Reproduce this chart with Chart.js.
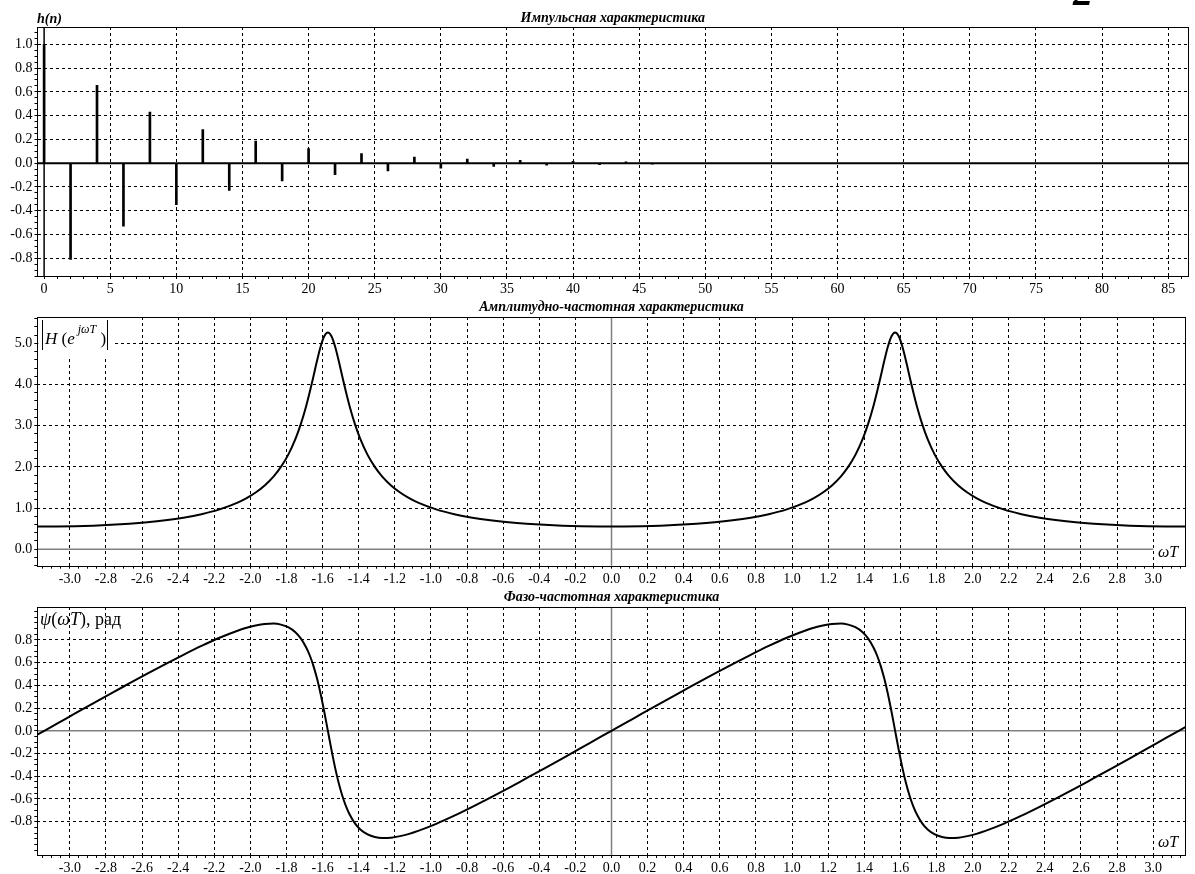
<!DOCTYPE html>
<html>
<head>
<meta charset="utf-8">
<script src="https://cdn.jsdelivr.net/npm/chart.js@4.4.1/dist/chart.umd.min.js"></script>
<style>
    html, body { margin: 0; padding: 0; background: #fff; }
    body { width: 1195px; height: 874px; position: relative; overflow: hidden; }
    canvas { position: absolute; left: 0; }
</style>
</head>
<body>
<canvas id="impulse" width="1195" height="300" style="top:0px"></canvas>
<canvas id="amplitude" width="1195" height="290" style="top:300px"></canvas>
<canvas id="phase" width="1195" height="284" style="top:590px"></canvas>
<script>
// Impulse response h(n), only even samples are non-zero
const sampleN = [0, 2, 4, 6, 8, 10, 12, 14, 16, 18, 20, 22, 24, 26, 28, 30, 32, 34, 36, 38, 40, 42, 44, 46];
const impulseH = [1.0, -0.81, 0.656, -0.531, 0.43, -0.349, 0.282, -0.229, 0.185, -0.15, 0.122, -0.098,
    0.08, -0.065, 0.052, -0.042, 0.034, -0.028, 0.023, -0.018, 0.015, -0.012, 0.01, -0.008];

// omega*T samples shared by the amplitude and phase curves
const omegaT = [
    -3.18, -3.1416, -3.0708, -2.9708, -2.8708, -2.7708, -2.6708, -2.5708, -2.4708, -2.3708, -2.2708, -2.1708, -2.0708,
    -2.0208, -1.9708, -1.9208, -1.8708, -1.8308, -1.7908, -1.7508, -1.7208, -1.6908, -1.6708, -1.6508, -1.6308, -1.6108, -1.5908, -1.5708,
    -1.5508, -1.5308, -1.5108, -1.4908, -1.4708, -1.4508, -1.4208, -1.3908, -1.3508, -1.3108, -1.2708, -1.2208, -1.1708, -1.1208, -1.0708,
    -0.9708, -0.8708, -0.7708, -0.6708, -0.5708, -0.4708, -0.3708, -0.2708, -0.1708, -0.0708, 0,
    0.0708, 0.1708, 0.2708, 0.3708, 0.4708, 0.5708, 0.6708, 0.7708, 0.8708, 0.9708, 1.0708,
    1.1208, 1.1708, 1.2208, 1.2708, 1.3108, 1.3508, 1.3908, 1.4208, 1.4508, 1.4708, 1.4908, 1.5108, 1.5308, 1.5508, 1.5708,
    1.5908, 1.6108, 1.6308, 1.6508, 1.6708, 1.6908, 1.7208, 1.7508, 1.7908, 1.8308, 1.8708, 1.9208, 1.9708, 2.0208, 2.0708,
    2.1708, 2.2708, 2.3708, 2.4708, 2.5708, 2.6708, 2.7708, 2.8708, 2.9708, 3.0708, 3.1416, 3.18,
];
const ampH = [
    0.553, 0.5525, 0.554, 0.561, 0.573, 0.592, 0.619, 0.655, 0.703, 0.766, 0.851, 0.967, 1.132,
    1.241, 1.377, 1.548, 1.770, 1.999, 2.292, 2.673, 3.037, 3.481, 3.824, 4.196, 4.576, 4.922, 5.171, 5.263,
    5.171, 4.922, 4.576, 4.196, 3.824, 3.481, 3.037, 2.673, 2.292, 1.999, 1.770, 1.548, 1.377, 1.241, 1.132,
    0.967, 0.851, 0.766, 0.703, 0.655, 0.619, 0.592, 0.573, 0.561, 0.554, 0.5525,
    0.554, 0.561, 0.573, 0.592, 0.619, 0.655, 0.703, 0.766, 0.851, 0.967, 1.132,
    1.241, 1.377, 1.548, 1.770, 1.999, 2.292, 2.673, 3.037, 3.481, 3.824, 4.196, 4.576, 4.922, 5.171, 5.263,
    5.171, 4.922, 4.576, 4.196, 3.824, 3.481, 3.037, 2.673, 2.292, 1.999, 1.770, 1.548, 1.377, 1.241, 1.132,
    0.967, 0.851, 0.766, 0.703, 0.655, 0.619, 0.592, 0.573, 0.561, 0.554, 0.5525, 0.553,
];
const phasePsi = [
    -0.034, 0, 0.063, 0.153, 0.242, 0.330, 0.417, 0.504, 0.588, 0.669, 0.747, 0.819, 0.881,
    0.907, 0.927, 0.941, 0.944, 0.935, 0.912, 0.868, 0.814, 0.734, 0.663, 0.572, 0.460, 0.324, 0.168, 0,
    -0.168, -0.324, -0.460, -0.572, -0.663, -0.734, -0.814, -0.868, -0.912, -0.935, -0.944, -0.941, -0.927, -0.907, -0.881,
    -0.819, -0.747, -0.669, -0.588, -0.504, -0.417, -0.330, -0.242, -0.153, -0.063, 0,
    0.063, 0.153, 0.242, 0.330, 0.417, 0.504, 0.588, 0.669, 0.747, 0.819, 0.881,
    0.907, 0.927, 0.941, 0.944, 0.935, 0.912, 0.868, 0.814, 0.734, 0.663, 0.572, 0.460, 0.324, 0.168, 0,
    -0.168, -0.324, -0.460, -0.572, -0.663, -0.734, -0.814, -0.868, -0.912, -0.935, -0.944, -0.941, -0.927, -0.907, -0.881,
    -0.819, -0.747, -0.669, -0.588, -0.504, -0.417, -0.330, -0.242, -0.153, -0.063, 0, 0.034,
];

// Labelled tick values
const nTicks = [0, 5, 10, 15, 20, 25, 30, 35, 40, 45, 50, 55, 60, 65, 70, 75, 80, 85];
const hTicks = [-0.8, -0.6, -0.4, -0.2, 0, 0.2, 0.4, 0.6, 0.8, 1.0];
const wTicks = [-3.0, -2.8, -2.6, -2.4, -2.2, -2.0, -1.8, -1.6, -1.4, -1.2, -1.0, -0.8, -0.6, -0.4, -0.2,
    0, 0.2, 0.4, 0.6, 0.8, 1.0, 1.2, 1.4, 1.6, 1.8, 2.0, 2.2, 2.4, 2.6, 2.8, 3.0];
const ampTicks = [0, 1, 2, 3, 4, 5];
const psiTicks = [-0.8, -0.6, -0.4, -0.2, 0, 0.2, 0.4, 0.6, 0.8];

const serif = '"Liberation Serif", "Times New Roman", serif';
const tickFont = { family: "Liberation Serif", size: 14 };
const oneDecimal = (v) => v.toFixed(1);
const isMajor = (majors, v) => majors.some((m) => Math.abs(m - v) < 1e-6);

// minor tick marks at every `step`, labels only on the majors
function minorTicks(step) {
    return (axis) => {
        const ticks = [];
        const first = Math.ceil(axis.min / step - 1e-9);
        const last = Math.floor(axis.max / step + 1e-9);
        for (let k = first; k <= last; k++) {
            ticks.push({ value: Math.round(k * step * 1e4) / 1e4 });
        }
        axis.ticks = ticks;
    };
}

function makeAxis({ min, max, majors, step, fmt, size, position }) {
    const horizontal = position === "bottom";
    return {
        type: "linear",
        position: position,
        min: min,
        max: max,
        offset: false,
        afterBuildTicks: minorTicks(step),
        afterFit: (axis) => {
            if (horizontal) axis.height = size;
            else axis.width = size;
        },
        grid: {
            offset: false,
            lineWidth: 1,
            color: (ctx) =>
                ctx.tick && isMajor(majors, ctx.tick.value) && Math.abs(ctx.tick.value) > 1e-9
                    ? "#000"
                    : "rgba(0,0,0,0)",
            tickLength: 3,
            tickColor: "#000",
            tickWidth: 1,
        },
        border: { display: false, dash: [3, 3] },
        ticks: {
            autoSkip: false,
            maxRotation: 0,
            minRotation: 0,
            padding: 2,
            color: "#000",
            font: tickFont,
            callback: (v) => (isMajor(majors, v) ? fmt(v) : ""),
        },
    };
}

function drawFrame(chart) {
    const { ctx, chartArea: a } = chart;
    ctx.save();
    ctx.strokeStyle = "#000";
    ctx.lineWidth = 1;
    ctx.strokeRect(Math.floor(a.left) + 0.5, Math.floor(a.top) + 0.5,
        Math.round(a.right - a.left), Math.round(a.bottom - a.top));
    ctx.restore();
}

function caption(chart, text, lift) {
    const { ctx, chartArea: a } = chart;
    ctx.save();
    ctx.font = "bold italic 14px " + serif;
    ctx.fillStyle = "#000";
    ctx.textAlign = "center";
    ctx.fillText(text, (a.left + a.right) / 2, a.top - lift);
    ctx.restore();
}

function richText(ctx, x, y, parts) {
    parts.forEach(([text, font, dy]) => {
        ctx.font = font;
        ctx.fillText(text, x, y + (dy || 0));
        x += ctx.measureText(text).width;
    });
    return x;
}

function zeroLines(chart, color, hWidth, vWidth, stopAt) {
    const { ctx, chartArea: a, scales: { x, y } } = chart;
    const y0 = y.getPixelForValue(0);
    const x0 = x.getPixelForValue(0);
    const xEnd = stopAt === undefined ? a.right : x.getPixelForValue(stopAt);
    ctx.save();
    ctx.strokeStyle = color;
    ctx.lineWidth = hWidth;
    ctx.beginPath();
    ctx.moveTo(a.left, y0);
    ctx.lineTo(xEnd, y0);
    ctx.stroke();
    ctx.lineWidth = vWidth;
    ctx.beginPath();
    ctx.moveTo(x0, a.top);
    ctx.lineTo(x0, a.bottom);
    ctx.stroke();
    ctx.restore();
}

const baseOptions = {
    responsive: false,
    animation: false,
    devicePixelRatio: 1,
    plugins: { legend: { display: false }, tooltip: { enabled: false } },
};

// Impulse response
const impulseDecor = {
    id: "impulseDecor",
    beforeDatasetsDraw: (chart) => zeroLines(chart, "#000", 2, 1.5),
    afterDraw: (chart) => {
        const ctx = chart.ctx;
        drawFrame(chart);
        caption(chart, "Импульсная характеристика", 5);
        ctx.save();
        ctx.fillStyle = "#000";
        ctx.font = "bold italic 14px " + serif;
        ctx.fillText("h(n)", 37, 23);
        ctx.font = "bold italic 40px " + serif;
        ctx.fillText("2", 1073, 5);
        ctx.restore();
    },
};

new Chart(document.getElementById("impulse"), {
    type: "bar",
    data: {
        datasets: [
            {
                data: sampleN.map((n, i) => ({ x: n, y: impulseH[i] })),
                backgroundColor: "#000",
                barThickness: 2,
            },
        ],
    },
    options: {
        ...baseOptions,
        layout: { padding: { left: 0, right: 7, top: 27, bottom: 0 } },
        scales: {
            x: makeAxis({ min: -0.5, max: 86.5, majors: nTicks, step: 1, fmt: String, size: 24, position: "bottom" }),
            y: makeAxis({ min: -0.95, max: 1.146, majors: hTicks, step: 0.05, fmt: oneDecimal, size: 37.5, position: "left" }),
        },
    },
    plugins: [impulseDecor],
});

// Amplitude response
const ampDecor = {
    id: "ampDecor",
    beforeDatasetsDraw: (chart) => zeroLines(chart, "#808080", 1.5, 1.5, 3.0),
    afterDraw: (chart) => {
        const { ctx, chartArea: a, scales: { x } } = chart;
        ctx.save();
        // label box top-left
        ctx.fillStyle = "#fff";
        ctx.fillRect(a.left + 1, a.top + 1, 111 - a.left, 55 - a.top);
        ctx.fillStyle = "#000";
        const end = richText(ctx, 45, 44, [
            ["H", "italic 17px " + serif],
            [" (", "17px " + serif],
            ["e", "italic 17px " + serif],
            [" jωT", "italic 12px " + serif, -11],
            [" )", "17px " + serif],
        ]);
        ctx.strokeStyle = "#000";
        ctx.lineWidth = 1;
        ctx.beginPath();
        ctx.moveTo(42.5, 20);
        ctx.lineTo(42.5, 50);
        ctx.moveTo(Math.round(end) + 1.5, 20);
        ctx.lineTo(Math.round(end) + 1.5, 50);
        ctx.stroke();
        // omega T box bottom-right
        const x3 = x.getPixelForValue(3.0);
        ctx.fillStyle = "#fff";
        ctx.fillRect(x3 + 1, 243, a.right - x3 - 2, 19);
        ctx.fillStyle = "#000";
        richText(ctx, 1158, 257, [["ωT", "italic 16px " + serif]]);
        ctx.restore();
        drawFrame(chart);
        caption(chart, "Амплитудно-частотная характеристика", 6);
    },
};

new Chart(document.getElementById("amplitude"), {
    type: "scatter",
    data: {
        datasets: [
            {
                data: omegaT.map((w, i) => ({ x: w, y: ampH[i] })),
                showLine: true,
                borderColor: "#000",
                borderWidth: 2,
                pointRadius: 0,
                cubicInterpolationMode: "monotone",
            },
        ],
    },
    options: {
        ...baseOptions,
        layout: { padding: { left: 0, right: 9.3, top: 17, bottom: 0 } },
        scales: {
            x: makeAxis({ min: -3.18, max: 3.18, majors: wTicks, step: 0.05, fmt: oneDecimal, size: 24.3, position: "bottom" }),
            y: makeAxis({ min: -0.4, max: 5.64, majors: ampTicks, step: 0.2, fmt: oneDecimal, size: 37.3, position: "left" }),
        },
    },
    plugins: [ampDecor],
});

// Phase response
const phaseDecor = {
    id: "phaseDecor",
    beforeDatasetsDraw: (chart) => zeroLines(chart, "#808080", 1.5, 1.5),
    afterDraw: (chart) => {
        const ctx = chart.ctx;
        ctx.save();
        ctx.fillStyle = "#000";
        richText(ctx, 40, 35, [
            ["ψ", "italic 18px " + serif],
            ["(", "18px " + serif],
            ["ωT", "italic 18px " + serif],
            [")", "18px " + serif],
            [", рад", "18px " + serif],
        ]);
        richText(ctx, 1158, 257, [["ωT", "italic 16px " + serif]]);
        ctx.restore();
        drawFrame(chart);
        caption(chart, "Фазо-частотная характеристика", 6);
    },
};

new Chart(document.getElementById("phase"), {
    type: "scatter",
    data: {
        datasets: [
            {
                data: omegaT.map((w, i) => ({ x: w, y: phasePsi[i] })),
                showLine: true,
                borderColor: "#000",
                borderWidth: 2,
                pointRadius: 0,
                cubicInterpolationMode: "monotone",
            },
        ],
    },
    options: {
        ...baseOptions,
        layout: { padding: { left: 0, right: 9.3, top: 17, bottom: 0 } },
        scales: {
            x: makeAxis({ min: -3.18, max: 3.18, majors: wTicks, step: 0.05, fmt: oneDecimal, size: 19, position: "bottom" }),
            y: makeAxis({ min: -1.093, max: 1.09, majors: psiTicks, step: 0.05, fmt: oneDecimal, size: 37.3, position: "left" }),
        },
    },
    plugins: [phaseDecor],
});
</script>
</body>
</html>
